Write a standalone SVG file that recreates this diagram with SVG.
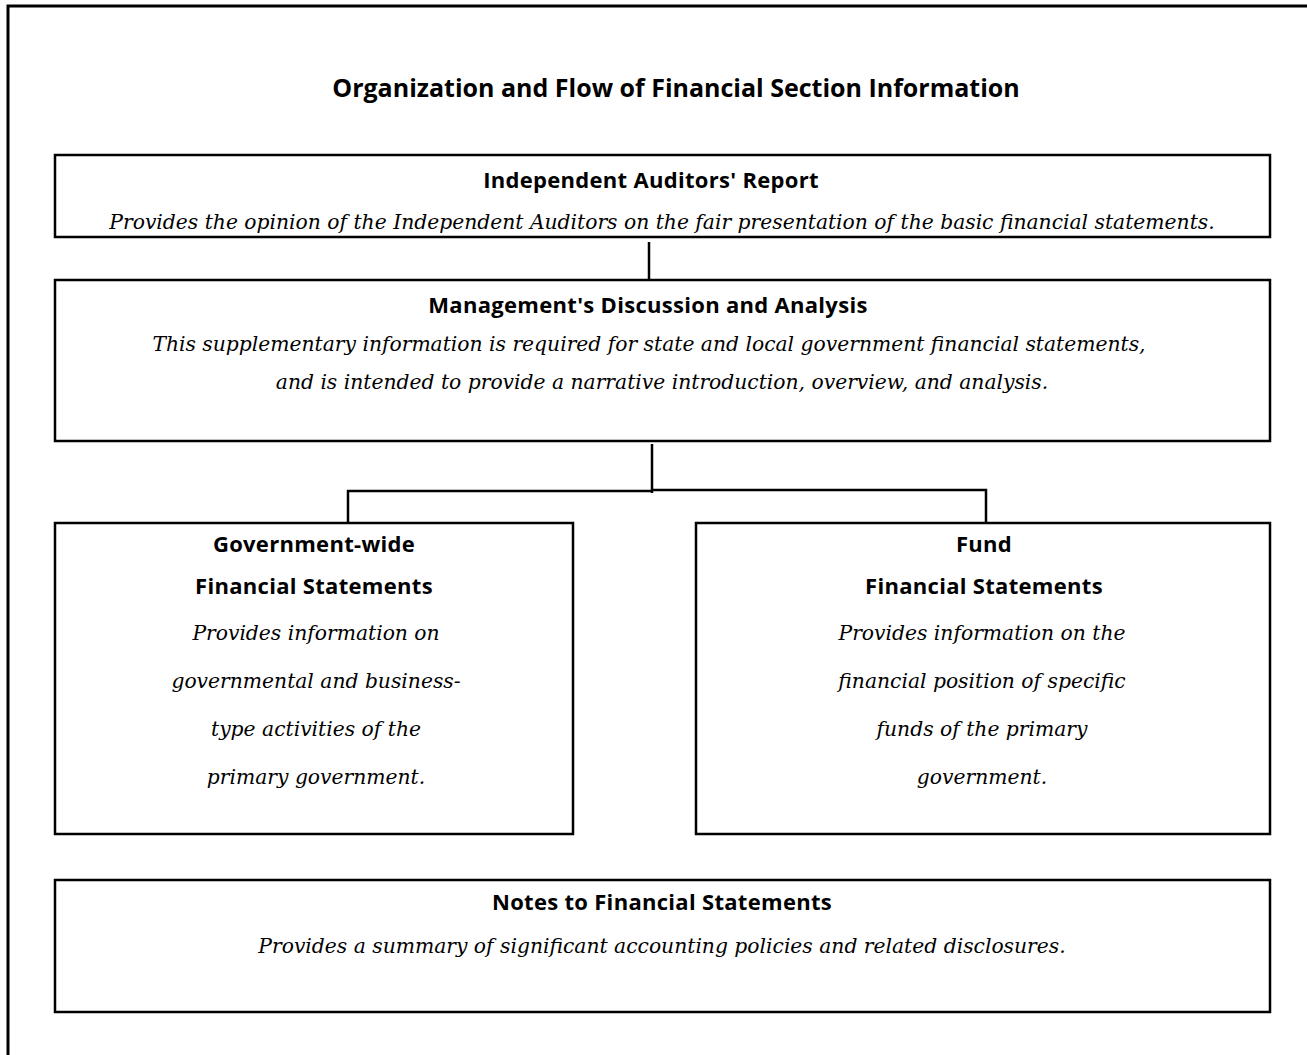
<svg xmlns="http://www.w3.org/2000/svg" width="1307" height="1055" viewBox="0 0 1307 1055">
<style>
.box{fill:#fff;stroke:#000;stroke-width:2.5}
.frame{fill:none;stroke:#000;stroke-width:3}
.conn{fill:none;stroke:#000;stroke-width:2.5}
.h{font-family:"Open Sans","Liberation Sans",sans-serif;font-weight:bold;font-size:22px;letter-spacing:0.3px;text-anchor:middle;fill:#000}
.t{font-family:"Open Sans","Liberation Sans",sans-serif;font-weight:bold;font-size:25px;text-anchor:middle;fill:#000}
.i{font-family:"DejaVu Serif","Liberation Serif",serif;font-style:italic;font-size:20.3px;text-anchor:middle;fill:#000}
</style>
<rect width="1307" height="1055" fill="#fff"/>
<path class="frame" d="M8,1055 V6 H1307"/>
<text class="t" x="676" y="97">Organization and Flow of Financial Section Information</text>
<g id="connectors">
<line class="conn" x1="649" y1="242" x2="649" y2="284"/>
<line class="conn" x1="652" y1="444" x2="652" y2="493"/>
<path class="conn" d="M348,522 V491 H652"/>
<path class="conn" d="M652,490 H986 V522"/>
</g>
<g id="auditors">
<rect class="box" x="55" y="155" width="1215" height="82"/>
<text class="h" x="651" y="188">Independent Auditors' Report</text>
<text class="i" x="662" y="229">Provides the opinion of the Independent Auditors on the fair presentation of the basic financial statements.</text>
</g>
<g id="mdna">
<rect class="box" x="55" y="280" width="1215" height="161"/>
<text class="h" x="648" y="313">Management's Discussion and Analysis</text>
<text class="i" x="649" y="351">This supplementary information is required for state and local government financial statements,</text>
<text class="i" x="662" y="389">and is intended to provide a narrative introduction, overview, and analysis.</text>
</g>
<g id="govwide">
<rect class="box" x="55" y="523" width="518" height="311"/>
<text class="h" x="314" y="552">Government-wide</text>
<text class="h" x="314" y="594">Financial Statements</text>
<text class="i" x="316" y="640">Provides information on</text>
<text class="i" x="316" y="688">governmental and business-</text>
<text class="i" x="316" y="736">type activities of the</text>
<text class="i" x="316" y="784">primary government.</text>
</g>
<g id="fund">
<rect class="box" x="696" y="523" width="574" height="311"/>
<text class="h" x="984" y="552">Fund</text>
<text class="h" x="984" y="594">Financial Statements</text>
<text class="i" x="982" y="640">Provides information on the</text>
<text class="i" x="982" y="688">financial position of specific</text>
<text class="i" x="982" y="736">funds of the primary</text>
<text class="i" x="982" y="784">government.</text>
</g>
<g id="notes">
<rect class="box" x="55" y="880" width="1215" height="132"/>
<text class="h" x="662" y="910">Notes to Financial Statements</text>
<text class="i" x="662" y="953">Provides a summary of significant accounting policies and related disclosures.</text>
</g>
</svg>
